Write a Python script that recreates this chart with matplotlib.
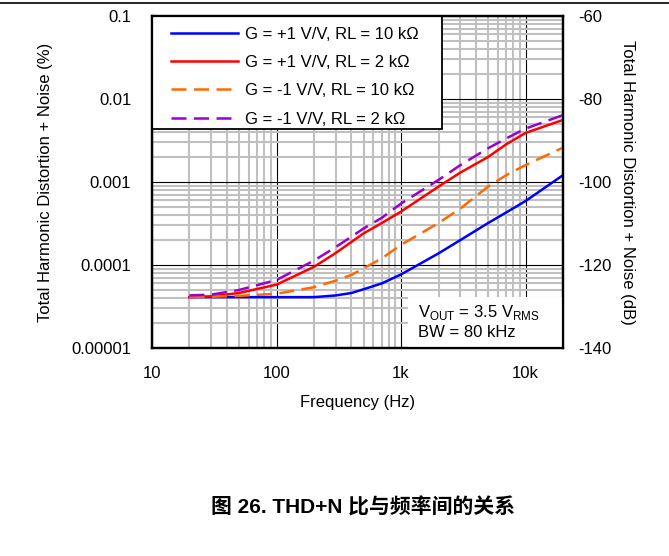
import numpy as np
import matplotlib
matplotlib.use("Agg")
import matplotlib.pyplot as plt
from matplotlib.ticker import LogLocator, NullFormatter
from matplotlib.lines import Line2D
from matplotlib.patches import Rectangle

plt.rcParams['font.family'] = ['Liberation Sans', 'Noto Sans CJK SC']
plt.rcParams['font.size'] = 12
plt.rcParams['axes.unicode_minus'] = False

# frequency points (Hz)
freq = [20, 30, 50, 100, 200, 300, 400, 500, 700, 1000, 2000, 3000, 5000, 7000, 10000, 20000]

# THD+N (%) for each configuration
thd_g1_10k = [4.1e-5, 4.1e-5, 4.1e-5, 4.1e-5, 4.1e-5, 4.3e-5, 4.6e-5, 5.1e-5, 6.0e-5,
              7.7e-5, 1.38e-4, 2.0e-4, 3.2e-4, 4.3e-4, 5.9e-4, 1.21e-3]
thd_g1_2k = [4.1e-5, 4.2e-5, 4.6e-5, 5.8e-5, 9.5e-5, 1.4e-4, 1.9e-4, 2.4e-4, 3.2e-4,
             4.4e-4, 8.8e-4, 1.3e-3, 2.0e-3, 2.85e-3, 3.9e-3, 5.6e-3]
thd_gm1_10k = [4.1e-5, 4.15e-5, 4.25e-5, 4.5e-5, 5.4e-5, 6.5e-5, 7.6e-5, 9.1e-5, 1.2e-4,
               1.75e-4, 3.2e-4, 4.8e-4, 8.8e-4, 1.21e-3, 1.6e-3, 2.6e-3]
thd_gm1_2k = [4.3e-5, 4.4e-5, 5.0e-5, 6.6e-5, 1.13e-4, 1.65e-4, 2.2e-4, 2.75e-4, 3.7e-4,
              5.5e-4, 1.06e-3, 1.6e-3, 2.55e-3, 3.35e-3, 4.4e-3, 6.4e-3]

labels = ['G = +1 V/V, RL = 10 k\u03a9', 'G = +1 V/V, RL = 2 k\u03a9',
          'G = -1 V/V, RL = 10 k\u03a9', 'G = -1 V/V, RL = 2 k\u03a9']

fig = plt.figure(figsize=(6.69, 5.56), dpi=100)
ax = fig.add_axes([0.2272, 0.3741, 0.8416 - 0.2272, 0.9712 - 0.3741])

ax.plot(freq, thd_g1_10k, color='#0000ff', lw=1.8, label=labels[0], zorder=3)
ax.plot(freq, thd_g1_2k, color='#ff0000', lw=1.8, label=labels[1], zorder=3)
ax.plot(freq, thd_gm1_10k, color='#ff6a00', lw=1.8, dashes=(6, 3), label=labels[2], zorder=3)
ax.plot(freq, thd_gm1_2k, color='#9b00d0', lw=1.8, dashes=(6, 3), label=labels[3], zorder=3)

ax.set_xscale('log')
ax.set_yscale('log')
ax.set_xlim(10, 20000)
ax.set_ylim(1e-5, 0.1)

ax.set_xticks([10, 100, 1000, 10000])
ax.set_xticklabels(['10', '100', '1k', '10k'])
ax.set_yticks([1e-5, 1e-4, 1e-3, 1e-2, 1e-1])
ax.set_yticklabels(['0.00001', '0.0001', '0.001', '0.01', '0.1'])
ax.xaxis.set_minor_locator(LogLocator(base=10, subs=np.arange(2, 10)))
ax.yaxis.set_minor_locator(LogLocator(base=10, subs=np.arange(2, 10)))
ax.xaxis.set_minor_formatter(NullFormatter())
ax.yaxis.set_minor_formatter(NullFormatter())

ax.grid(which='minor', color='#c0c0c0', lw=1.5, zorder=0)
ax.grid(which='major', color='black', lw=0.8, zorder=1)
ax.set_axisbelow(True)
ax.tick_params(which='both', length=0)
ax.tick_params(axis='y', pad=15)
ax.tick_params(axis='x', pad=13)
for s in ax.spines.values():
    s.set_linewidth(1.6)

ax.set_xlabel('Frequency (Hz)', labelpad=10)
ax.set_ylabel('Total Harmonic Distortion + Noise (%)', labelpad=13)

# right axis in dB
ax2 = ax.twinx()
ax2.set_ylim(-140, -60)
ax2.set_yticks([-140, -120, -100, -80, -60])
ax2.tick_params(length=0, pad=11)
ax2.set_ylabel('Total Harmonic Distortion + Noise (dB)', rotation=270, labelpad=17)
for s in ax2.spines.values():
    s.set_linewidth(1.6)

# legend with its own frame
ax.add_patch(Rectangle((0, 0.6596), 0.7056, 0.3404, transform=ax.transAxes,
                       facecolor='white', edgecolor='black', lw=1.3, zorder=4, clip_on=False))
leg = ax.legend(loc='upper left', bbox_to_anchor=(0.034, 0.983), borderaxespad=0,
                handlelength=4.0, handletextpad=0.45, labelspacing=0.8,
                frameon=False, borderpad=0.3)
leg.set_zorder(5)

# conditions box in the lower right corner
ax.add_patch(Rectangle((0.624, 0.0), 0.376, 0.153, transform=ax.transAxes,
                       facecolor='white', edgecolor='none', zorder=4))
ax.text(0.648, 0.108, 'V$_{\\mathregular{OUT}}$ = 3.5 V$_{\\mathregular{RMS}}$',
        transform=ax.transAxes, ha='left', va='center', fontsize=12, zorder=5)
ax.text(0.648, 0.048, 'BW = 80 kHz',
        transform=ax.transAxes, ha='left', va='center', fontsize=12, zorder=5)

fig.add_artist(Line2D([0, 1], [0.9946, 0.9946], color='black', lw=1.2, transform=fig.transFigure))

fig.text(0.543, 0.088, '图 26. THD+N 比与频率间的关系', ha='center', va='center',
         fontsize=15, fontweight='bold')

fig.savefig('out.png', dpi=100)
